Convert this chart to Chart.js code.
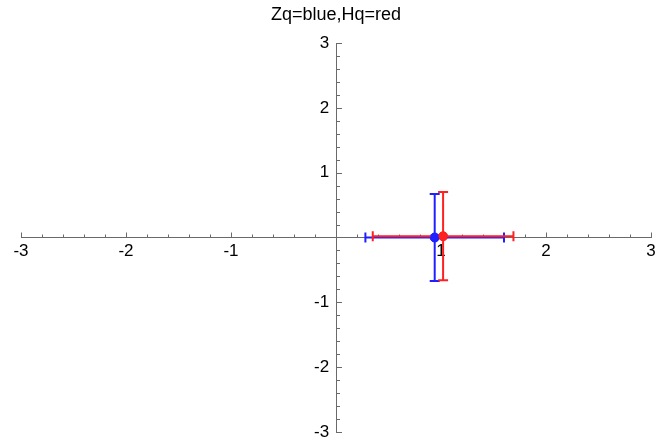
<!DOCTYPE html>
<html>
<head>
<meta charset="utf-8">
<script src="https://cdn.jsdelivr.net/npm/chart.js@4/dist/chart.umd.min.js"></script>
<style>
  html, body { margin: 0; padding: 0; background: #ffffff; }
  #wrap { width: 657px; height: 441px; }
</style>
</head>
<body>
<div id="wrap"><canvas id="c" width="657" height="441"></canvas></div>
<script>
// ---- data ----
const categories = ['Zq', 'Hq'];
const seriesColors = ['#2020ff', '#ff2020'];
const xValues = [0.94, 1.02];
const yValues = [0.0, 0.02];
const xErrors = [0.66, 0.67];
const yErrors = [0.67, 0.68];
const xTickLabels = [-3, -2, -1, 1, 2, 3];
const yTickLabels = [-3, -2, -1, 1, 2, 3];
const axisMin = -3;
const axisMax = 3;
const minorStep = 0.2;

const AXIS_COLOR = '#6a6a6a';

const datasets = categories.map((name, i) => ({
  label: name,
  data: [{ x: xValues[i], y: yValues[i] }],
  backgroundColor: seriesColors[i],
  borderColor: seriesColors[i],
  pointRadius: 4.5,
  pointHoverRadius: 4.5,
  errX: xErrors[i],
  errY: yErrors[i]
}));

const ticksPlugin = {
  id: 'minorTicks',
  beforeDatasetsDraw(chart) {
    const { ctx, scales: { x, y } } = chart;
    const x0 = x.getPixelForValue(0);
    const y0 = y.getPixelForValue(0);
    ctx.save();
    ctx.strokeStyle = AXIS_COLOR;
    ctx.lineWidth = 1;
    const n = Math.round((axisMax - axisMin) / minorStep);
    for (let k = 0; k <= n; k++) {
      const v = axisMin + k * minorStep;
      const major = Math.abs(v - Math.round(v)) < 1e-6;
      if (Math.abs(v) < 1e-6) continue;
      const len = major ? 5 : 3;
      const px = Math.round(x.getPixelForValue(v)) + 0.5;
      ctx.beginPath();
      ctx.moveTo(px, y0);
      ctx.lineTo(px, y0 - len);
      ctx.stroke();
      const py = Math.round(y.getPixelForValue(v)) + 0.5;
      ctx.beginPath();
      ctx.moveTo(x0, py);
      ctx.lineTo(x0 + len + 1, py);
      ctx.stroke();
    }
    ctx.restore();
  }
};

const errorBarPlugin = {
  id: 'errorBars',
  afterDatasetsDraw(chart) {
    const { ctx, scales: { x, y } } = chart;
    const cap = 5;
    ctx.save();
    ctx.lineWidth = 2;
    chart.data.datasets.forEach(ds => {
      const p = ds.data[0];
      const py = y.getPixelForValue(p.y);
      const xl = x.getPixelForValue(p.x - ds.errX);
      const xr = x.getPixelForValue(p.x + ds.errX);
      ctx.strokeStyle = ds.borderColor;
      ctx.beginPath();
      ctx.moveTo(xl, py); ctx.lineTo(xr, py);
      ctx.moveTo(xl, py - cap); ctx.lineTo(xl, py + cap);
      ctx.moveTo(xr, py - cap); ctx.lineTo(xr, py + cap);
      ctx.stroke();
    });
    chart.data.datasets.forEach(ds => {
      const p = ds.data[0];
      const px = x.getPixelForValue(p.x);
      const yt = y.getPixelForValue(p.y + ds.errY);
      const yb = y.getPixelForValue(p.y - ds.errY);
      ctx.strokeStyle = ds.borderColor;
      ctx.beginPath();
      ctx.moveTo(px, yt); ctx.lineTo(px, yb);
      ctx.moveTo(px - cap, yt); ctx.lineTo(px + cap, yt);
      ctx.moveTo(px - cap, yb); ctx.lineTo(px + cap, yb);
      ctx.stroke();
    });
    chart.data.datasets.forEach(ds => {
      const p = ds.data[0];
      ctx.fillStyle = ds.backgroundColor;
      ctx.beginPath();
      ctx.arc(x.getPixelForValue(p.x), y.getPixelForValue(p.y), 4.5, 0, Math.PI * 2);
      ctx.fill();
    });
    ctx.restore();
  }
};

const tickFont = { family: 'Liberation Sans, Arial, sans-serif', size: 17 };

function zeroFit(scale, dim) {
  scale[dim] = 0;
  scale.paddingLeft = 0;
  scale.paddingRight = 0;
  scale.paddingTop = 0;
  scale.paddingBottom = 0;
}

new Chart(document.getElementById('c'), {
  type: 'scatter',
  data: { datasets },
  options: {
    responsive: false,
    animation: false,
    events: [],
    layout: { autoPadding: false, padding: { left: 21, right: 6, top: 0, bottom: 9 } },
    plugins: {
      legend: { display: false },
      tooltip: { enabled: false },
      title: {
        display: true,
        text: 'Zq=blue,Hq=red',
        color: '#000000',
        font: { family: 'Liberation Sans, Arial, sans-serif', size: 18, weight: 'normal' },
        padding: { top: 4, bottom: 17.4 }
      }
    },
    scales: {
      x: {
        type: 'linear',
        position: { y: 0 },
        min: axisMin,
        max: axisMax,
        afterBuildTicks: (scale) => { scale.ticks = xTickLabels.map(v => ({ value: v })); },
        afterFit: (scale) => zeroFit(scale, 'height'),
        ticks: {
          autoSkip: false,
          maxRotation: 0,
          padding: 4,
          color: '#000000',
          font: tickFont,
          callback: (v) => String(v)
        },
        grid: { display: true, drawOnChartArea: false, drawTicks: false },
        border: { display: true, color: AXIS_COLOR, width: 1 }
      },
      y: {
        type: 'linear',
        position: { x: 0 },
        min: axisMin,
        max: axisMax,
        afterBuildTicks: (scale) => { scale.ticks = yTickLabels.map(v => ({ value: v })); },
        afterFit: (scale) => zeroFit(scale, 'width'),
        ticks: {
          autoSkip: false,
          padding: 8,
          color: '#000000',
          font: tickFont,
          callback: (v) => String(v) + '\u2009\u2009'
        },
        grid: { display: true, drawOnChartArea: false, drawTicks: false },
        border: { display: true, color: AXIS_COLOR, width: 1 }
      }
    }
  },
  plugins: [ticksPlugin, errorBarPlugin]
});
</script>
</body>
</html>
